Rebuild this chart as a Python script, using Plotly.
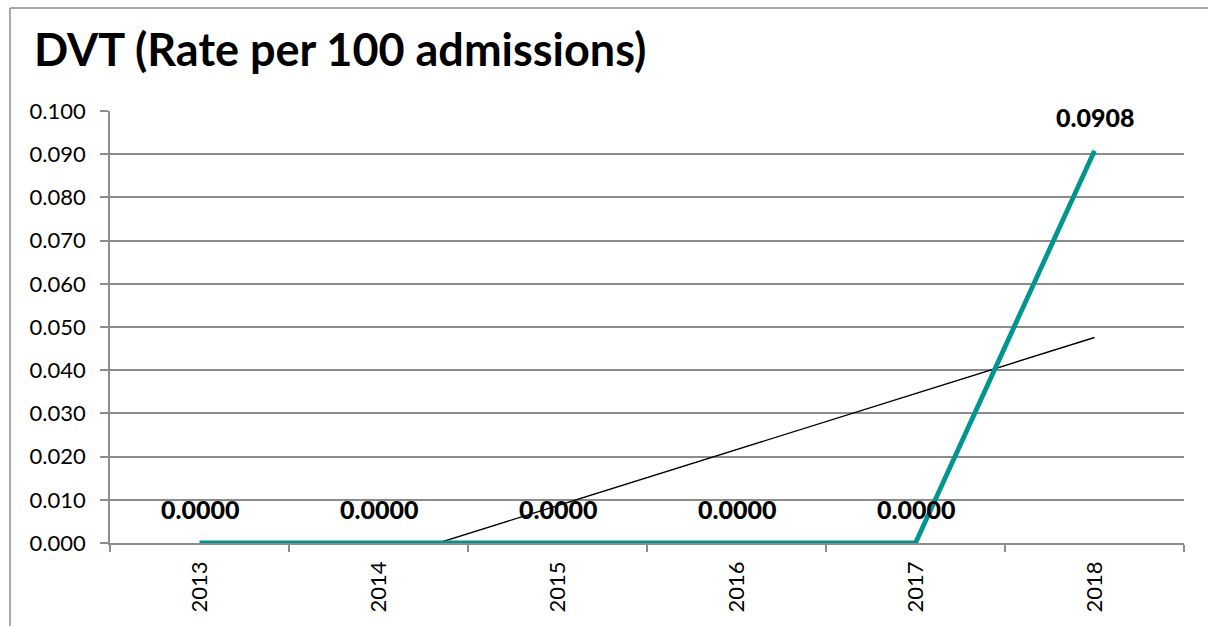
import numpy as np
import plotly.graph_objects as go

years = ["2013", "2014", "2015", "2016", "2017", "2018"]
rates = [0.0, 0.0, 0.0, 0.0, 0.0, 0.0908]
title_text = "DVT (Rate per 100 admissions)"
y_ticks = [0.0, 0.01, 0.02, 0.03, 0.04, 0.05, 0.06, 0.07, 0.08, 0.09, 0.1]

# linear trendline (Excel style) computed from the data
idx = np.arange(1, len(rates) + 1)
slope, intercept = np.polyfit(idx, rates, 1)
trend = list(slope * idx + intercept)

W, H = 1208, 626
ML, MR, MT, MB = 110, 24, 111, 83
pw, ph = W - ML - MR, H - MT - MB

FONT = "Lato"
GRID = "#8c8c8c"
TEAL = "#00968F"

fig = go.Figure()
fig.add_trace(go.Scatter(x=years, y=trend, mode="lines",
                         line=dict(color="black", width=1.4),
                         hoverinfo="skip", showlegend=False))
fig.add_trace(go.Scatter(x=years, y=rates, mode="lines",
                         line=dict(color=TEAL, width=4.8),
                         showlegend=False))

for i, v in enumerate(rates):
    fig.add_annotation(x=i, y=v, xref="x", yref="y", text=f"{v:.4f}",
                       showarrow=False, yshift=34,
                       font=dict(family=FONT, size=25, color="black", weight=900))

def px_x(p):
    return (p - ML) / pw

def px_y(p):
    return (H - MB - p) / ph

fig.add_shape(type="line", xref="paper", yref="paper",
              x0=px_x(10), x1=px_x(1220), y0=px_y(8), y1=px_y(8),
              line=dict(color=GRID, width=1.5))
fig.add_shape(type="line", xref="paper", yref="paper",
              x0=px_x(10), x1=px_x(10), y0=px_y(8), y1=px_y(640),
              line=dict(color=GRID, width=1.5))

fig.update_layout(
    width=W, height=H,
    margin=dict(l=ML, r=MR, t=MT, b=MB, pad=0),
    paper_bgcolor="white", plot_bgcolor="white",
    font=dict(family=FONT, color="black"),
    title=dict(text=f"<b>{title_text}</b>", x=34 / W, xanchor="left",
               y=1 - 50 / H, yanchor="middle",
               font=dict(family=FONT, size=45, color="black")),
    xaxis=dict(type="category", range=[-0.5, 5.5], tickson="boundaries",
               ticks="outside", ticklen=7, tickwidth=1.5, tickcolor=GRID,
               showline=True, linecolor=GRID, linewidth=1.5,
               showgrid=False, tickangle=-90, ticklabelstandoff=8,
               tickfont=dict(family=FONT, size=22, color="black")),
    yaxis=dict(range=[0, 0.1], tickvals=y_ticks, tickformat=".3f",
               ticks="outside", ticklen=8, tickwidth=1.5, tickcolor=GRID,
               showline=True, linecolor=GRID, linewidth=1.5,
               showgrid=True, gridcolor=GRID, gridwidth=1.5,
               zeroline=False, ticklabelstandoff=10,
               tickfont=dict(family=FONT, size=22, color="black")),
)

fig.write_html("out.html")
